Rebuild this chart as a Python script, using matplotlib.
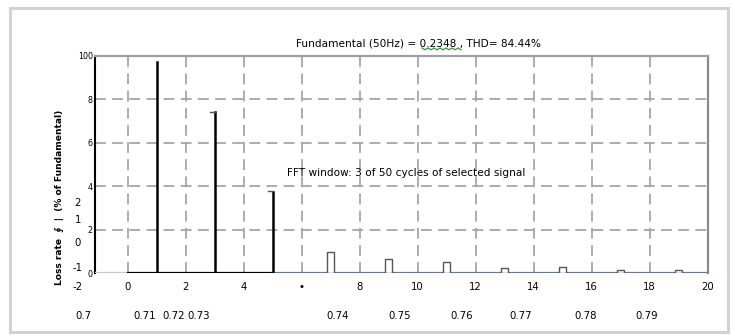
import matplotlib
matplotlib.use("Agg")
import matplotlib.pyplot as plt
from matplotlib.patches import Rectangle
from matplotlib.lines import Line2D

plt.rcParams['font.family'] = ['DejaVu Sans']

# harmonic spectrum (% of fundamental)
harmonics = [1, 3, 5, 7, 9, 11, 13, 15, 17, 19]
magnitude = [97.0, 73.9, 37.5, 9.9, 6.4, 5.0, 2.6, 2.8, 1.5, 1.5]

xtick_vals = [0, 2, 4, 6, 8, 10, 12, 14, 16, 18, 20]
xtick_text = ['0', '2', '4', '\u2022', '8', '10', '12', '14', '16', '18', '20']
ytick_vals = [0, 20, 40, 60, 80, 100]
ytick_text = ['0', '2', '4', '6', '8', '100']

# stray labels of a second (time) axis under the plot
time_labels = ['0.7', '0.71', '0.72', '0.73', '0.74', '0.75', '0.76', '0.77', '0.78', '0.79']
time_label_x = [-1.54, 0.6, 1.57, 2.43, 7.25, 9.39, 11.52, 13.55, 15.8, 17.9]
# stray labels left of the y axis
left_labels = ['2', '1', '0', '-1', '-2']
left_label_y = [32.4, 24.5, 14.1, 2.4, -6.3]

title_text = 'Fundamental (50Hz) = 0.2348 , THD= 84.44%'
W, H = 735, 336


def fx(px):
    return px / W


def fy(py):
    return 1 - py / H


fig = plt.figure(figsize=(W / 100, H / 100), dpi=100)
fig.patch.set_facecolor('white')

# outer panel frame
fig.add_artist(Rectangle((fx(10), fy(332)), fx(718), 324 / H, transform=fig.transFigure,
                         fill=False, edgecolor='#d2d2d2', linewidth=2.2))

ax = fig.add_axes([fx(95), fy(273.3), fx(707.7 - 95), (273.3 - 55.7) / H])
ax.set_xlim(-1.128, 20)
ax.set_ylim(0, 100)

# dashed grid
for gx in xtick_vals[:-1]:
    ax.axvline(gx, color='#a6a6a6', lw=1.3, ls=(0, (6, 3.5)), zorder=1)
for gy in ytick_vals[1:-1]:
    ax.axhline(gy, color='#a6a6a6', lw=1.3, ls=(0, (6, 3.5)), zorder=1)

# baseline: light grey left of 0, black up to the last large harmonic, blue-grey after
ax.plot([ax.get_xlim()[0], 0], [0, 0], color='#c8c8c8', lw=1.6, zorder=3)
ax.plot([0, harmonics[2]], [0, 0], color='black', lw=1.6, zorder=3)
ax.plot([harmonics[2], 20], [0, 0], color='#6673a6', lw=1.6, zorder=3)

# large harmonics as stems
for h, m in zip(harmonics[:3], magnitude[:3]):
    ax.plot([h, h], [0, m], color='black', lw=1.8, zorder=4)
for h, m in zip(harmonics[1:3], magnitude[1:3]):
    ax.plot([h - 0.15, h], [m + 0.4, m + 0.4], color='#555555', lw=1.0, zorder=4)

# small harmonics as open bars
ax.bar(harmonics[3:], magnitude[3:], width=0.23, facecolor='white',
       edgecolor='#555555', linewidth=1.0, zorder=4)

ax.set_xticks(xtick_vals)
ax.set_xticklabels(xtick_text, fontsize=7.3)
ax.set_yticks(ytick_vals)
ax.set_yticklabels(ytick_text, fontsize=5.8)
ax.tick_params(axis='x', length=0, pad=6.5)
ax.tick_params(axis='y', length=0, pad=1.5)

ax.spines['bottom'].set_visible(False)
ax.spines['left'].set_color('black')
ax.spines['left'].set_linewidth(1.5)
ax.spines['top'].set_color('#a0a0a0')
ax.spines['top'].set_linewidth(1.6)
ax.spines['right'].set_color('#8a8a8a')
ax.spines['right'].set_linewidth(1.6)

ax.text(0.5, -12.4, 'Harmonic order', transform=ax.get_xaxis_transform(),
        fontsize=7.4, ha='center', va='center')
for lab, x in zip(time_labels, time_label_x):
    ax.text(x, -19.5, lab, fontsize=7.3, ha='center', va='center', clip_on=False)
for lab, y in zip(left_labels, left_label_y):
    ax.text(-1.72, y, lab, fontsize=7.3, ha='center', va='center', clip_on=False)

ax.text(5.5, 46, 'FFT window: 3 of 50 cycles of selected signal', fontsize=7.6,
        ha='left', va='center', zorder=5)

ax.text(-2.35, 35, 'Loss rate  \u222e  |  (% of Fundamental)', rotation=90,
        fontsize=6.6, fontweight='bold', ha='center', va='center', clip_on=False)

fig.text(fx(418), fy(44), title_text, fontsize=7.6, ha='center', va='center')
# spell-check squiggle under the value
zx = [fx(422 + i * 3) for i in range(14)]
zy = [fy(48 + (i % 2) * 1.8) for i in range(14)]
fig.add_artist(Line2D(zx, zy, color='#2e9a3a', lw=0.9, transform=fig.transFigure))

fig.savefig('out.png', dpi=100)
